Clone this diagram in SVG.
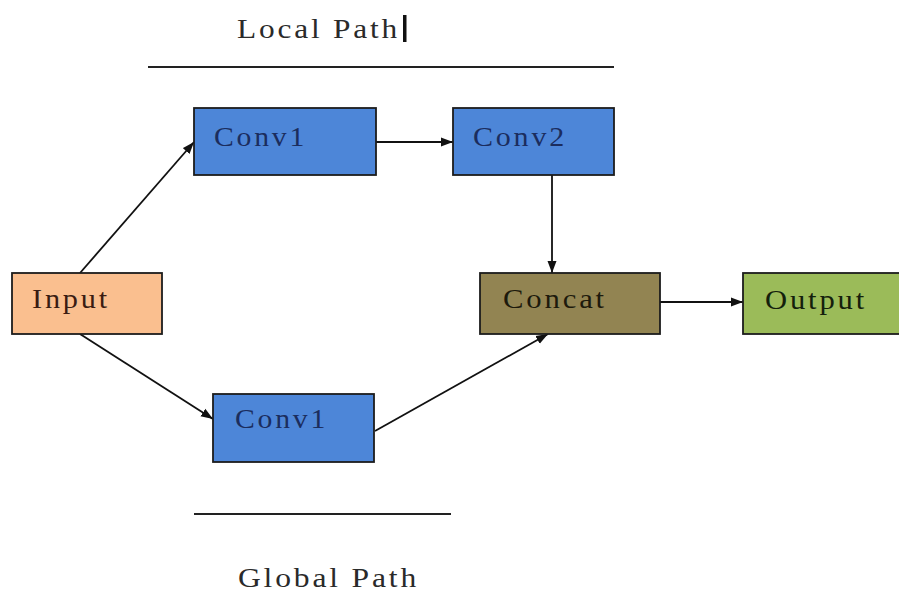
<svg xmlns="http://www.w3.org/2000/svg" width="899" height="592" viewBox="0 0 899 592">
  <style>
    .box { stroke: #1c1c1c; stroke-width: 1.8; }
    .lbl { font-family: "Liberation Serif", "Times New Roman", serif; font-size: 27px; letter-spacing: 2.5px; }
    .title { font-family: "Liberation Serif", "Times New Roman", serif; font-size: 28px; letter-spacing: 2.5px; fill: #2a2a2a; }
    .edge { stroke: #111; stroke-width: 1.8; fill: none; marker-end: url(#arrow); }
    .rule { stroke: #222; stroke-width: 2; }
  </style>
  <defs>
    <marker id="arrow" viewBox="0 0 12 10" refX="12" refY="5" markerWidth="12" markerHeight="10" markerUnits="userSpaceOnUse" orient="auto">
      <path d="M0,0.5 L12,5 L0,9.5 z" fill="#111"/>
    </marker>
  </defs>
  <rect width="899" height="592" fill="#ffffff"/>

  <!-- section headings and rules -->
  <g id="local-path">
    <text class="title" x="237" y="38" textLength="163" lengthAdjust="spacingAndGlyphs">Local Path</text>
    <rect x="403" y="15" width="3.5" height="27" fill="#111"/>
    <line class="rule" x1="148" y1="67" x2="614" y2="67"/>
  </g>
  <g id="global-path">
    <line class="rule" x1="194" y1="514" x2="451" y2="514"/>
    <text class="title" x="238" y="587" textLength="181" lengthAdjust="spacingAndGlyphs">Global Path</text>
  </g>

  <!-- connectors -->
  <g id="connectors">
    <line class="edge" x1="80" y1="273" x2="194" y2="142"/>
    <line class="edge" x1="376" y1="142" x2="453" y2="142"/>
    <line class="edge" x1="552" y1="175" x2="552" y2="273"/>
    <line class="edge" x1="80" y1="334" x2="213" y2="419"/>
    <line class="edge" x1="375" y1="431" x2="548" y2="334"/>
    <line class="edge" x1="660" y1="302" x2="743" y2="302"/>
  </g>

  <!-- nodes -->
  <g id="conv1-local">
    <rect class="box" x="194" y="108" width="182" height="67" fill="#4d86d8"/>
    <text class="lbl" x="214" y="146" fill="#1b2d5e" textLength="93" lengthAdjust="spacingAndGlyphs">Conv1</text>
  </g>
  <g id="conv2-local">
    <rect class="box" x="453" y="108" width="161" height="67" fill="#4d86d8"/>
    <text class="lbl" x="473" y="146" fill="#1b2d5e" textLength="94" lengthAdjust="spacingAndGlyphs">Conv2</text>
  </g>
  <g id="input">
    <rect class="box" x="12" y="273" width="150" height="61" fill="#fabf8f"/>
    <text class="lbl" x="32" y="308" fill="#3a1c12" textLength="78" lengthAdjust="spacingAndGlyphs">Input</text>
  </g>
  <g id="concat">
    <rect class="box" x="480" y="273" width="180" height="61" fill="#928452"/>
    <text class="lbl" x="503" y="308" fill="#1d1a0c" textLength="104" lengthAdjust="spacingAndGlyphs">Concat</text>
  </g>
  <g id="output">
    <rect class="box" x="743" y="273" width="162" height="61" fill="#9bbb59"/>
    <text class="lbl" x="765" y="309" fill="#14200c" textLength="102" lengthAdjust="spacingAndGlyphs">Output</text>
  </g>
  <g id="conv1-global">
    <rect class="box" x="213" y="394" width="161" height="68" fill="#4d86d8"/>
    <text class="lbl" x="235" y="428" fill="#1b2d5e" textLength="93" lengthAdjust="spacingAndGlyphs">Conv1</text>
  </g>
</svg>
